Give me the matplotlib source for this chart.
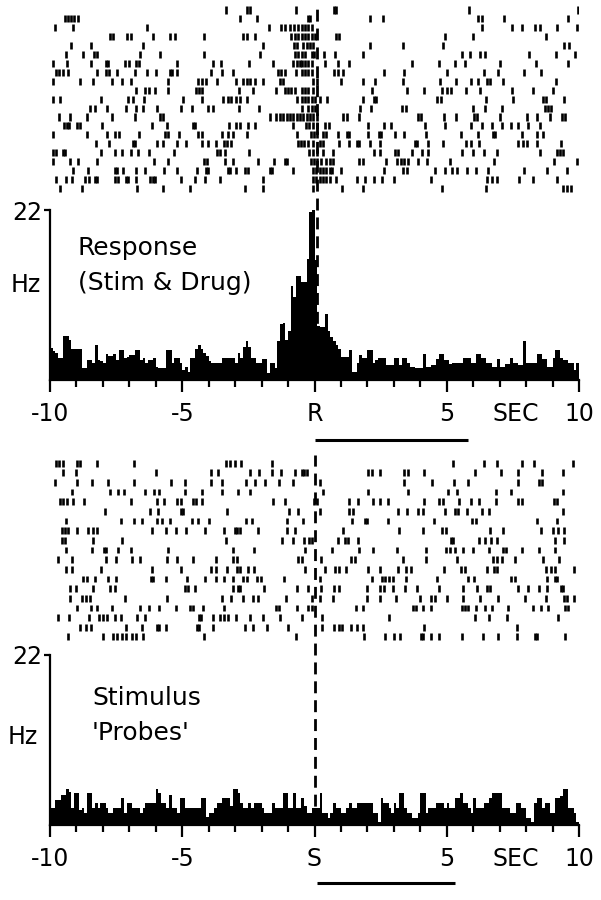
import numpy as np
import matplotlib
matplotlib.use("Agg")
import matplotlib.pyplot as plt

plt.rcParams['font.family'] = ['DejaVu Sans']
plt.rcParams['lines.scale_dashes'] = False

# spike times (s) per trial, response-aligned (top raster)
resp_trials = [
    [-3.35, -2.57, -2.44, -0.71, 0.72, 0.80, 5.86, 9.97],
    [-9.45, -9.33, -9.2, -9.08, -8.95, -2.82, -2.19, -0.26, -0.16, 2.10, 2.58, 6.20, 6.32, 7.17, 9.60],
    [-9.81, -9.12, -6.35, -1.71, -1.25, -1.10, -0.94, -0.79, -0.64, -0.48, -0.35, -0.23, -0.10,
     6.32, 7.46, 7.83, 8.34, 8.53, 9.16, 9.91],
    [-7.73, -7.63, -7.10, -6.95, -6.12, -5.47, -5.28, -4.18, -2.72, -2.57, -2.25, -0.87, -0.74,
     -0.62, -0.48, -0.35, -0.23, -0.10, 0.03, 0.82, 0.94, 4.94, 6.01, 8.75],
    [-9.22, -8.46, -6.47, -1.96, -0.78, -0.68, -0.42, -0.29, -0.16, -0.04, 2.08, 3.34, 4.85, 9.43, 9.63],
    [-9.40, -8.74, -8.34, -8.24, -6.60, -5.84, -4.18, -2.07, -0.74, -0.64, -0.48, -0.35, -0.10,
     -0.01, 0.37, 0.78, 1.85, 5.57, 5.88, 6.26, 6.45, 8.12, 9.13, 9.85],
    [-9.90, -9.37, -8.46, -7.90, -7.80, -7.15, -7.00, -6.75, -6.65, -5.21, -3.85, -3.55, -2.47,
     -1.56, -0.81, -0.68, -0.56, -0.48, -0.35, -0.23, -0.10, 0.40, 0.87, 1.32, 3.68, 4.72, 5.31,
     5.69, 7.02, 8.38, 9.57],
    [-9.77, -9.65, -9.50, -9.31, -8.24, -7.88, -7.76, -7.48, -6.79, -6.35, -5.99, -5.47, -5.37,
     -5.21, -3.93, -3.48, -3.10, -1.37, -1.25, -1.12, -0.71, -0.48, -0.35, -0.23, -0.10, 0.72,
     0.87, 1.07, 2.63, 3.39, 5.00, 6.39, 6.95, 7.92, 8.55],
    [-9.90, -8.87, -8.39, -7.67, -7.29, -6.94, -5.53, -4.40, -4.27, -4.11, -3.70, -2.97, -2.72,
     -2.57, -2.42, -2.25, -1.94, -1.31, -1.18, -0.04, 0.09, 0.99, 1.85, 2.29, 3.34, 4.75, 5.35,
     5.91, 6.20, 6.51, 6.64, 7.12, 9.13],
    [-6.75, -6.41, -6.25, -6.03, -5.53, -4.48, -4.36, -4.27, -2.85, -2.32, -1.46, -1.12, -0.99,
     -0.87, -0.74, -0.48, -0.35, -0.23, -0.06, 2.17, 3.51, 4.14, 4.81, 5.00, 5.15, 5.73, 6.26,
     7.46, 8.27, 9.03],
    [-9.90, -9.62, -8.09, -7.04, -6.88, -6.45, -4.96, -4.27, -3.45, -3.26, -3.14, -2.95, -2.82,
     -2.54, -0.68, -0.48, -0.35, -0.23, -0.10, 0.03, 0.21, 0.49, 1.85, 2.25, 2.33, 4.65, 4.77,
     6.49, 7.49, 8.63, 8.75, 9.43],
    [-8.49, -8.30, -7.83, -7.13, -6.75, -6.50, -5.97, -5.03, -4.65, -4.02, -3.83, -2.85, -2.09,
     -0.48, -0.23, -0.10, 0.03, 1.73, 2.13, 3.30, 3.46, 5.98, 6.45, 7.08, 8.72, 8.84, 8.93],
    [-9.65, -9.24, -8.61, -7.67, -6.79, -5.84, -5.72, -1.69, -1.44, -1.31, -1.18, -1.05, -0.93,
     -0.80, -0.67, -0.55, -0.42, -0.30, -0.18, -0.06, 0.09, 1.07, 1.22, 1.70, 3.93, 4.02, 4.90,
     5.35, 6.03, 6.16, 7.02, 8.02, 8.43, 8.90, 9.35, 9.47],
    [-9.47, -9.37, -9.27, -8.99, -8.87, -8.05, -6.16, -5.59, -4.58, -4.50, -3.22, -2.97, -2.82,
     -2.51, -2.25, -0.81, -0.31, -0.19, -0.06, 0.09, 0.40, 0.53, 2.04, 2.63, 2.88, 4.19, 4.94,
     5.91, 6.32, 6.70, 7.08, 7.42, 7.71, 8.09, 8.53],
    [-9.87, -8.59, -7.83, -7.54, -7.39, -6.62, -5.65, -5.55, -5.11, -4.40, -4.27, -3.51, -3.26,
     -3.07, -2.57, -0.65, -0.14, -0.01, 0.11, 0.34, 0.44, 0.87, 1.22, 1.32, 2.04, 2.42, 2.50,
     3.05, 3.39, 4.22, 5.53, 6.20, 6.74, 6.83, 7.83, 8.43, 8.63],
    [-8.26, -7.76, -6.88, -6.78, -5.94, -5.72, -5.18, -4.84, -4.27, -4.02, -3.73, -3.43, -3.30,
     -3.14, -0.62, -0.50, -0.39, -0.23, -0.06, 0.19, 0.31, 0.94, 1.32, 1.60, 1.70, 2.08, 2.46,
     3.80, 3.89, 4.31, 4.85, 5.73, 5.91, 6.23, 7.71, 7.87, 8.05, 8.43, 9.31],
    [-9.90, -9.77, -9.52, -9.43, -8.09, -7.54, -7.29, -6.94, -6.66, -6.26, -5.31, -3.70, -3.58,
     -3.39, -2.47, -0.19, -0.06, 0.09, 0.34, 0.69, 2.25, 2.46, 3.05, 3.14, 3.68, 4.06, 4.31,
     5.57, 5.98, 6.41, 6.91, 8.53, 9.16, 9.28, 9.38],
    [-9.90, -9.24, -8.93, -8.21, -6.07, -5.53, -4.18, -4.08, -3.39, -3.10, -2.13, -1.54, -1.12,
     -1.03, -0.14, -0.01, 0.11, 0.24, 0.44, 0.57, 0.69, 1.70, 1.83, 2.71, 3.11, 3.26, 3.39, 3.55,
     3.93, 4.24, 5.13, 6.79, 9.06, 9.91],
    [-9.14, -8.55, -7.56, -7.46, -7.25, -6.75, -6.39, -5.69, -5.21, -4.46, -4.11, -4.02, -3.26,
     -3.20, -2.97, -2.63, -2.51, -1.69, -1.59, -0.81, -0.06, 0.06, 0.19, 0.31, 0.44, 0.57, 0.65,
     0.99, 2.61, 3.36, 3.49, 4.56, 4.94, 5.19, 5.38, 5.76, 6.11, 6.57, 7.92, 8.78, 9.53],
    [-9.77, -9.40, -9.18, -8.68, -8.51, -8.30, -8.24, -7.54, -7.42, -7.13, -7.04, -6.75, -6.22,
     -6.12, -6.02, -5.06, -4.52, -4.14, -3.58, -1.96, -0.06, 0.06, 0.19, 0.31, 0.44, 0.59, 0.82,
     1.60, 1.91, 2.25, 2.54, 3.01, 4.40, 6.54, 6.70, 6.91, 7.75, 8.25, 9.16],
    [-9.62, -8.80, -6.70, -5.74, -4.71, -2.62, -1.94, -0.04, 1.03, 1.85, 4.81, 6.49, 9.41, 9.53, 9.68],
]

# spike times (s) per trial, stimulus-aligned (bottom raster)
stim_trials = [
    [-9.77, -9.65, -9.52, -8.97, -8.85, -8.21, -6.83, -3.35, -3.20, -3.01, -2.76, -1.59, 5.23,
     6.41, 6.89, 7.83, 8.30, 9.76],
    [-9.50, -9.02, -5.99, -3.93, -3.64, -2.42, -2.09, -1.59, -1.25, -0.74, -0.48, -0.39, -0.29,
     2.04, 2.17, 2.46, 3.39, 3.55, 4.14, 6.07, 7.04, 7.71, 8.59, 9.38],
    [-9.81, -8.99, -8.43, -7.80, -6.83, -5.44, -4.90, -3.93, -3.51, -2.59, -2.25, -1.88, -1.34,
     -0.81, 0.19, 3.39, 4.43, 5.28, 5.82, 7.71, 8.50, 8.59],
    [-9.18, -7.73, -7.42, -7.20, -6.41, -6.07, -5.87, -4.90, -4.27, -3.51, -2.88, -2.44, 0.34,
     2.04, 3.55, 5.03, 5.40, 6.86, 7.42, 9.38],
    [-9.62, -9.52, -9.37, -9.12, -8.72, -6.95, -5.94, -5.69, -5.21, -5.03, -4.61, -4.48, -4.27,
     -1.56, -1.12, -0.01, 0.09, 1.32, 1.66, 2.23, 2.48, 2.76, 4.14, 4.72, 4.85, 5.48, 5.91, 6.23,
     6.86, 7.71, 7.83, 9.06, 9.18],
    [-7.92, -6.22, -5.91, -5.03, -4.96, -3.30, -0.96, -0.62, 0.19, 1.32, 1.45, 3.14, 3.51, 3.93,
     4.12, 4.94, 5.31, 5.44, 5.76, 6.32, 6.61, 9.38],
    [-9.40, -7.33, -6.83, -6.54, -5.94, -5.78, -5.47, -4.65, -4.40, -3.98, -2.59, -2.38, -1.03,
     -0.42, 1.41, 1.91, 1.98, 2.76, 4.52, 5.94, 6.11, 8.40, 9.16],
    [-9.56, -9.43, -9.31, -8.97, -8.55, -8.39, -8.24, -6.16, -5.62, -5.24, -4.86, -4.14, -3.43,
     -3.01, -2.92, -2.82, -2.13, -1.03, -0.74, 1.07, 3.21, 4.09, 4.81, 4.97, 6.64, 7.12, 8.55,
     9.01, 9.22, 9.43],
    [-9.56, -9.43, -8.39, -7.29, -3.35, -1.21, -0.81, -0.39, -0.19, -0.10, 0.87, 1.16, 1.28,
     1.66, 5.15, 5.23, 6.23, 6.45, 6.66, 6.91, 9.09, 9.43],
    [-9.40, -8.43, -7.96, -7.88, -7.42, -6.95, -5.53, -3.10, -2.29, -0.35, 0.65, 1.70, 2.20,
     3.11, 4.22, 4.97, 5.13, 5.31, 5.63, 5.98, 6.61, 7.12, 7.24, 7.83, 8.50, 9.09],
    [-9.69, -9.18, -7.88, -7.51, -6.91, -6.60, -5.57, -5.19, -4.61, -3.73, -3.10, -2.92, -0.62,
     -0.48, 0.24, 1.37, 1.54, 3.34, 4.22, 5.40, 6.74, 6.89, 7.08, 7.58, 8.65, 9.26],
    [-9.40, -9.18, -8.09, -6.16, -5.06, -3.93, -3.73, -3.32, -2.92, -2.82, -2.51, -2.29, -0.35,
     0.40, 0.78, 0.91, 1.20, 2.04, 2.46, 3.14, 3.46, 3.64, 4.90, 5.53, 5.69, 6.54, 6.79, 6.91,
     8.75, 8.93, 9.09, 9.81],
    [-8.77, -8.59, -8.30, -7.80, -7.51, -6.20, -6.10, -5.62, -4.81, -4.14, -3.73, -3.43, -3.07,
     -2.72, -2.57, -2.17, -2.04, -1.16, 0.21, 2.17, 2.54, 2.67, 2.80, 2.98, 3.46, 4.65, 5.82,
     6.03, 7.42, 7.58, 8.80, 9.09, 9.18],
    [-9.24, -9.02, -8.39, -7.73, -7.54, -4.90, -4.77, -4.52, -3.10, -2.88, -2.80, -1.91, -0.68,
     -0.23, 0.24, 0.72, 0.94, 1.98, 2.48, 2.61, 2.98, 3.43, 3.87, 4.72, 5.60, 6.13, 6.51, 6.64,
     7.71, 8.09, 8.50, 8.80, 9.31, 9.41],
    [-9.24, -8.80, -8.64, -8.49, -7.17, -5.57, -3.51, -3.14, -2.72, -2.32, -2.13, -1.08, -0.10,
     0.21, 0.69, 1.98, 2.46, 3.09, 3.97, 4.40, 4.56, 5.00, 5.63, 6.26, 6.95, 7.96, 8.75, 9.43,
     9.53, 9.81],
    [-8.97, -8.46, -8.24, -7.67, -6.60, -6.25, -5.87, -5.24, -4.71, -4.61, -4.21, -3.43, -1.46,
     -1.34, -0.68, -0.23, -0.10, 1.57, 1.85, 3.72, 3.84, 4.09, 4.40, 5.57, 5.69, 5.82, 6.11,
     6.45, 6.70, 7.33, 8.27, 8.55, 8.84, 9.47, 9.60],
    [-9.69, -9.27, -8.51, -8.14, -7.98, -7.86, -7.54, -7.33, -6.70, -6.41, -4.38, -4.28, -3.83,
     -3.58, -3.43, -3.26, -2.95, -2.42, -1.94, -1.31, -0.48, 0.28, 2.80, 6.07, 6.61, 7.29, 9.22],
    [-8.87, -8.64, -8.46, -7.13, -6.54, -5.94, -5.87, -5.62, -4.46, -4.36, -3.85, -2.63, -2.32,
     -1.81, -0.99, 0.28, 0.72, 0.94, 1.03, 1.37, 1.62, 1.85, 4.14, 7.67],
    [-9.31, -8.01, -7.63, -7.48, -7.29, -7.13, -6.91, -6.73, -6.50, -4.18, -0.71, 1.88, 2.67,
     3.01, 3.24, 4.02, 4.09, 4.40, 4.72, 5.57, 6.36, 6.95, 7.67, 8.34, 8.40, 9.47],
]

# peri-event firing rate (Hz), 0.1 s bins from -10 to 10 s
resp_rate = [
    4.1, 3.8, 3.5, 2.8, 2.8, 5.7, 5.7, 5.2, 4.0, 4.0,
    4.0, 4.0, 1.6, 1.6, 2.6, 2.6, 2.2, 4.5, 2.6, 2.4,
    2.2, 3.4, 3.1, 3.1, 3.4, 2.6, 3.9, 3.9, 2.8, 3.0,
    3.2, 3.2, 3.9, 3.9, 2.6, 2.8, 2.2, 2.6, 2.6, 2.8,
    1.7, 1.5, 1.5, 1.5, 3.9, 3.9, 2.2, 2.8, 2.8, 2.2,
    1.3, 1.7, 1.0, 2.8, 2.8, 4.0, 4.5, 4.0, 3.5, 3.1,
    2.4, 2.2, 2.2, 2.2, 2.2, 2.8, 2.8, 2.8, 2.9, 2.9,
    2.2, 3.5, 2.8, 4.3, 5.1, 4.3, 2.8, 2.8, 2.2, 2.2,
    2.7, 2.7, 0.9, 2.2, 2.2, 1.5, 5.1, 7.2, 7.4, 5.2,
    6.3, 12.2, 10.8, 13.4, 13.4, 12.7, 12.7, 15.6, 21.8, 22.0,
    15.5, 7.0, 6.9, 6.9, 8.6, 6.3, 5.6, 5.0, 4.5, 4.0,
    3.0, 3.0, 3.0, 3.9, 1.1, 1.1, 2.2, 3.2, 2.8, 2.8,
    3.9, 3.9, 2.2, 2.6, 2.8, 2.8, 2.8, 1.9, 1.9, 1.9,
    2.8, 2.8, 1.9, 2.8, 2.8, 2.2, 1.7, 1.7, 1.6, 1.6,
    1.6, 3.4, 1.7, 1.7, 1.9, 1.9, 2.7, 3.4, 3.4, 2.6,
    2.6, 2.1, 2.2, 2.2, 2.2, 2.2, 2.8, 2.8, 2.8, 2.2,
    2.2, 3.4, 3.4, 2.8, 2.8, 2.2, 2.2, 1.7, 1.7, 2.7,
    1.7, 1.7, 2.1, 2.1, 2.8, 2.2, 2.2, 1.9, 1.9, 5.1,
    2.2, 2.2, 2.2, 2.2, 3.4, 3.4, 2.7, 2.7, 1.7, 1.7,
    2.8, 3.9, 3.9, 2.8, 2.6, 2.6, 2.2, 2.2, 1.3, 2.2,
]

stim_rate = [
    2.2, 2.2, 3.3, 3.3, 3.9, 3.9, 4.7, 4.3, 2.2, 4.1,
    4.1, 1.9, 2.2, 1.5, 4.1, 4.1, 2.2, 2.8, 2.2, 2.8,
    2.8, 2.2, 1.5, 1.5, 2.2, 2.2, 2.2, 3.5, 1.5, 2.8,
    2.8, 2.2, 2.2, 2.2, 1.5, 2.2, 2.8, 2.8, 2.8, 2.8,
    4.7, 4.1, 2.8, 2.8, 2.2, 3.9, 2.2, 2.2, 1.5, 3.5,
    3.5, 2.2, 2.2, 2.2, 2.2, 2.2, 2.2, 3.5, 3.5, 1.1,
    1.5, 1.5, 2.2, 2.8, 2.8, 3.5, 3.5, 3.5, 2.4, 4.7,
    4.7, 4.1, 2.8, 2.2, 2.2, 2.8, 2.2, 2.8, 2.8, 2.8,
    2.2, 1.5, 1.5, 1.5, 2.8, 2.2, 2.2, 2.2, 4.1, 4.1,
    2.2, 2.2, 4.1, 2.2, 2.2, 3.5, 2.5, 1.5, 1.5, 2.2,
    2.2, 2.2, 4.1, 1.5, 1.5, 0.9, 1.5, 2.8, 2.2, 2.2,
    1.5, 1.5, 2.2, 2.8, 2.2, 2.2, 2.8, 2.8, 2.8, 2.8,
    2.8, 2.8, 1.5, 1.5, 0.4, 3.5, 2.8, 2.8, 2.2, 1.5,
    2.8, 2.2, 4.1, 4.1, 2.2, 1.5, 1.5, 0.9, 0.9, 1.5,
    4.1, 4.1, 1.5, 2.2, 2.2, 2.2, 2.8, 2.8, 2.8, 2.2,
    2.8, 2.2, 2.2, 3.5, 3.5, 4.1, 2.8, 2.8, 2.2, 1.5,
    3.5, 2.2, 2.2, 2.2, 2.8, 2.8, 3.5, 4.1, 4.1, 4.1,
    4.1, 2.2, 2.2, 2.2, 1.5, 1.5, 2.8, 2.8, 2.2, 2.2,
    0.9, 0.9, 0.4, 2.8, 3.5, 3.5, 2.2, 2.8, 2.8, 1.5,
    1.5, 3.5, 3.5, 3.7, 4.7, 4.7, 2.2, 2.2, 1.5, 0.4,
]

bin_edges = np.linspace(-10, 10, 201)
major_ticks = [-10, -5, 0, 5, 10]
resp_labels = ['-10', '-5', 'R', '5', '10']
stim_labels = ['-10', '-5', 'S', '5', '10']
resp_event = 0.08      # dashed line, response
stim_event = 0.0       # dashed line, stimulus
resp_bar = [0.0, 5.8]  # scale bar under axis
stim_bar = [0.1, 5.3]

W, H = 601, 900
X0, X1 = 50, 579
FS = 17
FS_NOTE = 18


def box(top, bottom):
    return [X0 / W, 1 - bottom / H, (X1 - X0) / W, (bottom - top) / H]


def raster(rect, trials, length):
    ax = fig.add_axes(rect)
    n = len(trials)
    ax.eventplot(trials, lineoffsets=np.arange(1, n + 1), linelengths=length,
                 linewidths=1.9, colors='black')
    ax.set_xlim(-10, 10)
    ax.set_ylim(n + 0.5, 0.5)
    ax.axis('off')
    return ax


def histo(rect, rate, labels, event, bar, bar_y, line_top):
    ax = fig.add_axes(rect)
    ax.stairs(rate, bin_edges, fill=True, color='black', linewidth=0)
    ax.set_xlim(-10, 10)
    ax.set_ylim(0, 22)
    for s in ['top', 'right']:
        ax.spines[s].set_visible(False)
    for s in ['left', 'bottom']:
        ax.spines[s].set_linewidth(1.6)
    ax.set_xticks(major_ticks)
    ax.set_xticklabels(labels)
    ax.set_xticks(range(-10, 11), minor=True)
    ax.set_yticks([22])
    ax.tick_params(axis='x', which='major', length=8.5, width=1.6, pad=7, labelsize=FS)
    ax.tick_params(axis='x', which='minor', length=5, width=1.6)
    ax.tick_params(axis='y', length=4, width=1.6, pad=1.5, labelsize=FS)
    ax.text(7.6, -0.127, 'SEC', transform=ax.get_xaxis_transform(),
            ha='center', va='top', fontsize=FS)
    ax.plot(bar, [bar_y, bar_y], transform=ax.get_xaxis_transform(), color='black',
            lw=2.2, clip_on=False, solid_capstyle='butt')
    ax.axvline(event, ymin=0, ymax=line_top, color='black', lw=2,
               linestyle=(0, (8.6, 5)), clip_on=False)
    return ax


fig = plt.figure(figsize=(W / 100, H / 100), dpi=100)

raster(box(5.5, 192.8), resp_trials, 0.8)
histo(box(210, 380), resp_rate, resp_labels, resp_event, resp_bar, -0.353, (380 - 5) / 170)

raster(box(458.2, 641.8), stim_trials, 0.72)
histo(box(655, 825), stim_rate, stim_labels, stim_event, stim_bar, -0.341, (825 - 455) / 170)

fig.text(26 / W, 1 - 285 / H, 'Hz', ha='center', va='center', fontsize=FS)
fig.text(78 / W, 1 - 255 / H, 'Response', va='baseline', fontsize=FS_NOTE)
fig.text(78 / W, 1 - 290 / H, '(Stim & Drug)', va='baseline', fontsize=FS_NOTE)

fig.text(23 / W, 1 - 737 / H, 'Hz', ha='center', va='center', fontsize=FS)
fig.text(92 / W, 1 - 705 / H, 'Stimulus', va='baseline', fontsize=FS_NOTE)
fig.text(92 / W, 1 - 740 / H, "'Probes'", va='baseline', fontsize=FS_NOTE)

fig.savefig('out.png', dpi=100)
